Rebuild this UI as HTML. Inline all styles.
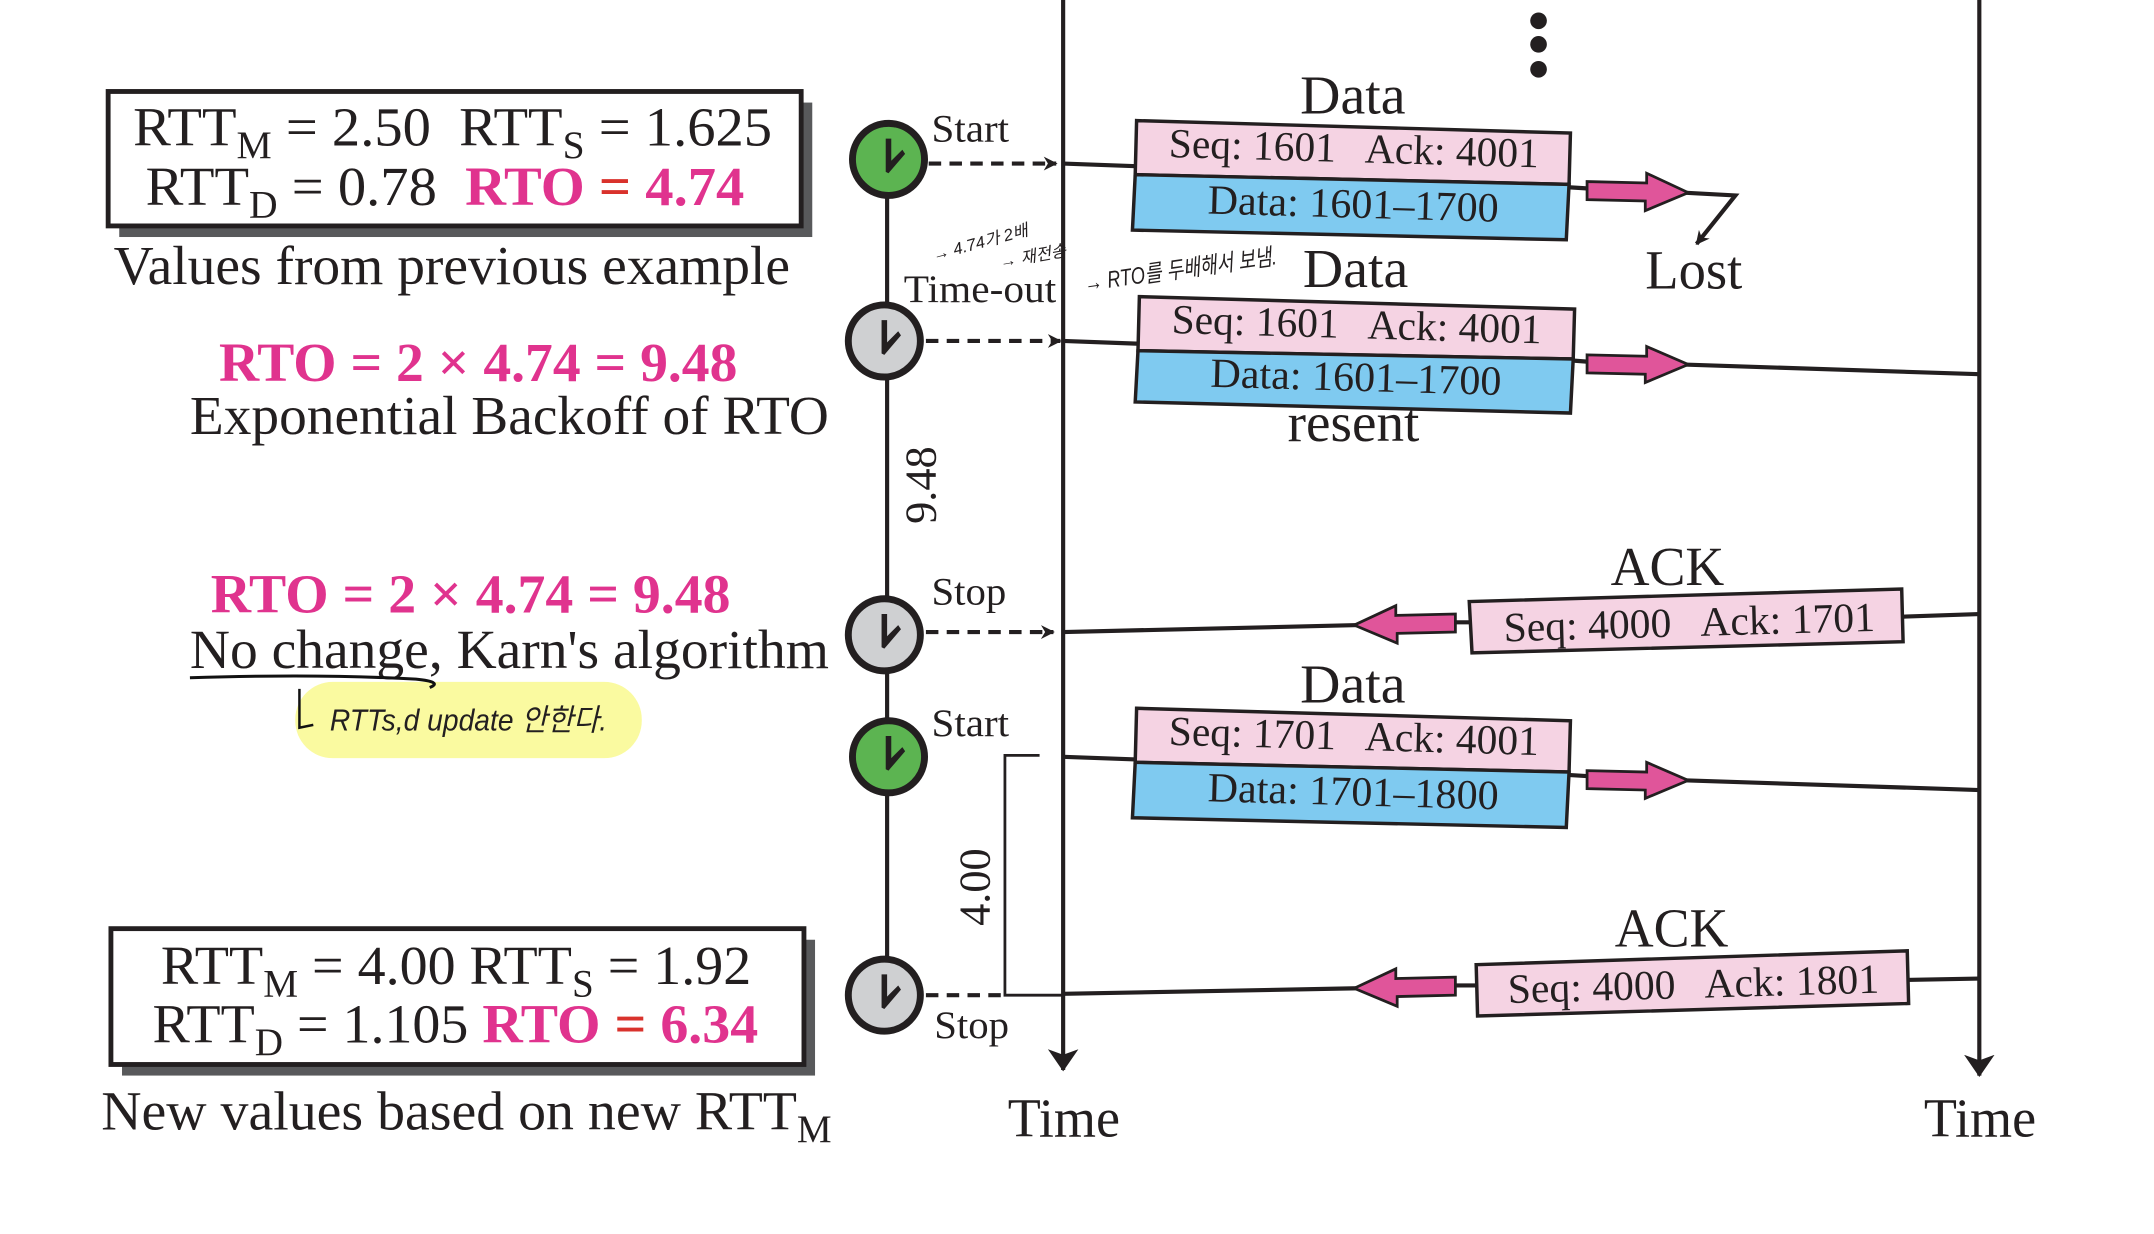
<!DOCTYPE html>
<html><head><meta charset="utf-8"><style>
html,body{margin:0;padding:0;background:#fff;}
svg{display:block;}
text{font-family:"Liberation Serif","Noto Serif CJK SC",serif;fill:#231f20;white-space:pre;}
.hw{font-family:"Liberation Sans","Noto Sans CJK KR",sans-serif;font-style:italic;}
.pk{fill:#e0338e;font-weight:bold;}
</style></head><body>
<svg width="2154" height="1234" viewBox="0 0 1554 890.3" xmlns="http://www.w3.org/2000/svg">
<defs>
<marker id="ah" markerWidth="10" markerHeight="10" refX="9" refY="5" orient="auto" markerUnits="userSpaceOnUse"><path d="M0,0 L10,5 L0,10 L3,5 Z" fill="#231f20"/></marker>
<marker id="ahb" markerWidth="16" markerHeight="22" refX="15" refY="11" orient="auto" markerUnits="userSpaceOnUse"><path d="M0,0 L16,11 L0,22 L4,11 Z" fill="#231f20"/></marker>
</defs>

<!-- Box 1 -->
<rect x="86" y="74" width="500" height="97" fill="#58595b"/>
<rect x="78" y="66" width="500" height="97" fill="#fff" stroke="#231f20" stroke-width="3.5"/>
<text x="96" y="105" font-size="40" textLength="461" lengthAdjust="spacingAndGlyphs">RTT<tspan font-size="28" dy="9">M</tspan><tspan dy="-9"> = 2.50  RTT</tspan><tspan font-size="28" dy="9">S</tspan><tspan dy="-9"> = 1.625</tspan></text>
<text x="105" y="148" font-size="40" textLength="432" lengthAdjust="spacingAndGlyphs">RTT<tspan font-size="28" dy="9">D</tspan><tspan dy="-9"> = 0.78  </tspan><tspan class="pk">RTO <tspan fill="#d9322c">=</tspan> 4.74</tspan></text>
<text x="82" y="205" font-size="40" textLength="488" lengthAdjust="spacingAndGlyphs">Values from previous example</text>

<text x="158" y="275" font-size="40" class="pk" textLength="374" lengthAdjust="spacingAndGlyphs">RTO = 2 × 4.74 = 9.48</text>
<text x="137" y="313" font-size="40" textLength="461" lengthAdjust="spacingAndGlyphs">Exponential Backoff of RTO</text>
<text x="152" y="442" font-size="40" class="pk" textLength="375" lengthAdjust="spacingAndGlyphs">RTO = 2 × 4.74 = 9.48</text>
<text x="137" y="482" font-size="40" textLength="461" lengthAdjust="spacingAndGlyphs">No change, Karn's algorithm</text>

<!-- highlight + annotation -->
<rect x="213" y="492" width="250" height="55" rx="27" fill="#fafaa0"/>
<path d="M137,489 Q230,486 300,490 Q320,492 310,496" fill="none" stroke="#111" stroke-width="2.2"/>
<path d="M216,497 L216,525 L226,523" fill="none" stroke="#111" stroke-width="1.8"/>
<text x="238" y="527" font-size="22" class="hw" fill="#111" textLength="200" lengthAdjust="spacingAndGlyphs">RTTs,d update 안한다.</text>
<text x="674" y="188" font-size="12" class="hw" transform="rotate(-15 674 188)">→ 4.74가 2배</text>
<text x="722" y="193" font-size="12" class="hw" transform="rotate(-10 722 193)">→ 재전송</text>
<text x="783" y="210" font-size="17" class="hw" transform="rotate(-8 783 210)" textLength="140" lengthAdjust="spacingAndGlyphs">→ RTO를 두배해서 보냄.</text>

<!-- Box 2 -->
<rect x="88" y="678" width="500" height="98" fill="#58595b"/>
<rect x="80" y="670" width="500" height="98" fill="#fff" stroke="#231f20" stroke-width="3.5"/>
<text x="116" y="710" font-size="40" textLength="426" lengthAdjust="spacingAndGlyphs">RTT<tspan font-size="28" dy="9">M</tspan><tspan dy="-9"> = 4.00 RTT</tspan><tspan font-size="28" dy="9">S</tspan><tspan dy="-9"> = 1.92</tspan></text>
<text x="110" y="752" font-size="40" textLength="437" lengthAdjust="spacingAndGlyphs">RTT<tspan font-size="28" dy="9">D</tspan><tspan dy="-9"> = 1.105 </tspan><tspan class="pk">RTO <tspan fill="#d9322c">=</tspan> 6.34</tspan></text>
<text x="73" y="815" font-size="40" textLength="527" lengthAdjust="spacingAndGlyphs">New values based on new RTT<tspan font-size="28" dy="9">M</tspan></text>

<!-- clock timeline -->
<line x1="640" y1="115" x2="640" y2="718" stroke="#231f20" stroke-width="3"/>
<g stroke="#231f20" stroke-width="3" stroke-dasharray="9,6" fill="none">
<line x1="670" y1="118" x2="762" y2="118" marker-end="url(#ah)"/>
<line x1="668" y1="246" x2="765" y2="246" marker-end="url(#ah)"/>
<line x1="668" y1="456" x2="760" y2="456" marker-end="url(#ah)"/>
<line x1="668" y1="718" x2="725" y2="718"/>
</g>
<path d="M750,545 L725,545 L725,718 L767,718" fill="none" stroke="#231f20" stroke-width="2"/>
<g stroke="#231f20" stroke-width="5">
<circle cx="641" cy="115" r="26" fill="#5cb451"/>
<circle cx="638" cy="246" r="26" fill="#cfd0d2"/>
<circle cx="638" cy="458" r="26" fill="#cfd0d2"/>
<circle cx="641" cy="546" r="26" fill="#5cb451"/>
<circle cx="638" cy="718" r="26" fill="#cfd0d2"/>
</g>
<g fill="#231f20">
<path d="M639,100 L643,100 L643,116 L651,108 L653,111 L641,125 L639,124 Z"/>
<path d="M636,231 L640,231 L640,247 L648,239 L650,242 L638,256 L636,255 Z"/>
<path d="M636,443 L640,443 L640,459 L648,451 L650,454 L638,468 L636,467 Z"/>
<path d="M639,531 L643,531 L643,547 L651,539 L653,542 L641,556 L639,555 Z"/>
<path d="M636,703 L640,703 L640,719 L648,711 L650,714 L638,728 L636,727 Z"/>
</g>
<text x="672" y="102" font-size="28" textLength="56" lengthAdjust="spacingAndGlyphs">Start</text>
<text x="652" y="218" font-size="28" textLength="110" lengthAdjust="spacingAndGlyphs">Time-out</text>
<text x="672" y="436" font-size="28" textLength="54" lengthAdjust="spacingAndGlyphs">Stop</text>
<text x="672" y="531" font-size="28" textLength="56" lengthAdjust="spacingAndGlyphs">Start</text>
<text x="674" y="749" font-size="28" textLength="54" lengthAdjust="spacingAndGlyphs">Stop</text>
<text x="0" y="0" font-size="32" transform="translate(675 350) rotate(-90)" text-anchor="middle">9.48</text>
<text x="0" y="0" font-size="32" transform="translate(714 640) rotate(-90)" text-anchor="middle">4.00</text>

<!-- main timelines -->
<line x1="767" y1="0" x2="767" y2="772" stroke="#231f20" stroke-width="3" marker-end="url(#ahb)"/>
<line x1="1428" y1="0" x2="1428" y2="776" stroke="#231f20" stroke-width="3" marker-end="url(#ahb)"/>
<text x="727" y="820" font-size="40" textLength="81" lengthAdjust="spacingAndGlyphs">Time</text>
<text x="1388" y="820" font-size="40" textLength="81" lengthAdjust="spacingAndGlyphs">Time</text>
<circle cx="1110" cy="15" r="6" fill="#231f20"/><circle cx="1110" cy="32" r="6" fill="#231f20"/><circle cx="1110" cy="50" r="6" fill="#231f20"/>

<!-- flows lines -->
<g stroke="#231f20" stroke-width="3" fill="none">
<line x1="767" y1="118" x2="822" y2="120"/>
<path d="M1215,139 L1252,141 L1224,176" marker-end="url(#ah)"/>
<line x1="767" y1="246" x2="822" y2="248"/>
<line x1="1215" y1="263" x2="1428" y2="270"/>
<line x1="1370" y1="445" x2="1428" y2="443"/>
<line x1="767" y1="456" x2="980" y2="451"/>
<line x1="767" y1="546" x2="822" y2="548"/>
<line x1="1215" y1="563" x2="1428" y2="570"/>
<line x1="1375" y1="707" x2="1428" y2="706"/>
<line x1="767" y1="717" x2="980" y2="713"/>
<line x1="1130" y1="135" x2="1146" y2="136"/>
<line x1="1133" y1="260" x2="1146" y2="261"/>
<line x1="1130" y1="559" x2="1146" y2="560"/>
<line x1="1050" y1="449" x2="1062" y2="449"/>
<line x1="1050" y1="711" x2="1066" y2="711"/>
</g>

<!-- packet arrows -->
<g fill="#e0559a" stroke="#231f20" stroke-width="2">
<path d="M1145,131 L1188,132 L1188,125 L1218,139 L1187,152 L1187,145 L1145,144 Z"/>
<path d="M1145,256 L1188,257 L1188,250 L1218,263 L1187,276 L1187,270 L1145,269 Z"/>
<path d="M1145,556 L1188,557 L1188,550 L1218,563 L1187,576 L1187,570 L1145,569 Z"/>
<path d="M1050,443 L1007,444 L1007,437 L977,451 L1008,464 L1008,457 L1050,456 Z"/>
<path d="M1050,705 L1007,706 L1007,699 L977,713 L1008,726 L1008,719 L1050,718 Z"/>
</g>

<!-- Data 1 -->
<text x="938" y="82" font-size="40" textLength="76" lengthAdjust="spacingAndGlyphs">Data</text>
<g stroke="#231f20" stroke-width="2.5">
<path d="M820,87 L1133,96 L1132,133 L819,126 Z" fill="#f5d3e3"/>
<path d="M819,126 L1132,133 L1130,173 L817,166 Z" fill="#7fcaf0"/>
</g>
<text x="843" y="117" font-size="30" transform="rotate(1.6 976 117)" textLength="267" lengthAdjust="spacingAndGlyphs">Seq: 1601   Ack: 4001</text>
<text x="871" y="157" font-size="30" transform="rotate(1.6 976 157)" textLength="210" lengthAdjust="spacingAndGlyphs">Data: 1601–1700</text>
<text x="1187" y="208" font-size="40" textLength="70" lengthAdjust="spacingAndGlyphs">Lost</text>

<!-- Data 2 -->
<text x="940" y="207" font-size="40" textLength="76" lengthAdjust="spacingAndGlyphs">Data</text>
<g stroke="#231f20" stroke-width="2.5">
<path d="M822,214 L1136,223 L1135,259 L821,253 Z" fill="#f5d3e3"/>
<path d="M821,253 L1135,259 L1133,298 L819,290 Z" fill="#7fcaf0"/>
</g>
<text x="845" y="244" font-size="30" transform="rotate(1.6 978 244)" textLength="267" lengthAdjust="spacingAndGlyphs">Seq: 1601   Ack: 4001</text>
<text x="873" y="282" font-size="30" transform="rotate(1.6 978 282)" textLength="210" lengthAdjust="spacingAndGlyphs">Data: 1601–1700</text>
<text x="929" y="318" font-size="40" textLength="95" lengthAdjust="spacingAndGlyphs">resent</text>

<!-- ACK 1 -->
<text x="1162" y="422" font-size="40" textLength="82" lengthAdjust="spacingAndGlyphs">ACK</text>
<path d="M1060,434 L1372,425 L1373,463 L1062,471 Z" fill="#f5d3e3" stroke="#231f20" stroke-width="2.5"/>
<text x="1085" y="459" font-size="30" transform="rotate(-1.6 1218 459)" textLength="268" lengthAdjust="spacingAndGlyphs">Seq: 4000   Ack: 1701</text>

<!-- Data 3 -->
<text x="938" y="507" font-size="40" textLength="76" lengthAdjust="spacingAndGlyphs">Data</text>
<g stroke="#231f20" stroke-width="2.5">
<path d="M820,511 L1133,520 L1132,557 L819,550 Z" fill="#f5d3e3"/>
<path d="M819,550 L1132,557 L1130,597 L817,590 Z" fill="#7fcaf0"/>
</g>
<text x="843" y="541" font-size="30" transform="rotate(1.6 976 541)" textLength="267" lengthAdjust="spacingAndGlyphs">Seq: 1701   Ack: 4001</text>
<text x="871" y="581" font-size="30" transform="rotate(1.6 976 581)" textLength="210" lengthAdjust="spacingAndGlyphs">Data: 1701–1800</text>

<!-- ACK 2 -->
<text x="1165" y="683" font-size="40" textLength="82" lengthAdjust="spacingAndGlyphs">ACK</text>
<path d="M1065,696 L1376,686 L1377,724 L1066,733 Z" fill="#f5d3e3" stroke="#231f20" stroke-width="2.5"/>
<text x="1088" y="720" font-size="30" transform="rotate(-1.6 1220 720)" textLength="268" lengthAdjust="spacingAndGlyphs">Seq: 4000   Ack: 1801</text>
</svg>
</body></html>
